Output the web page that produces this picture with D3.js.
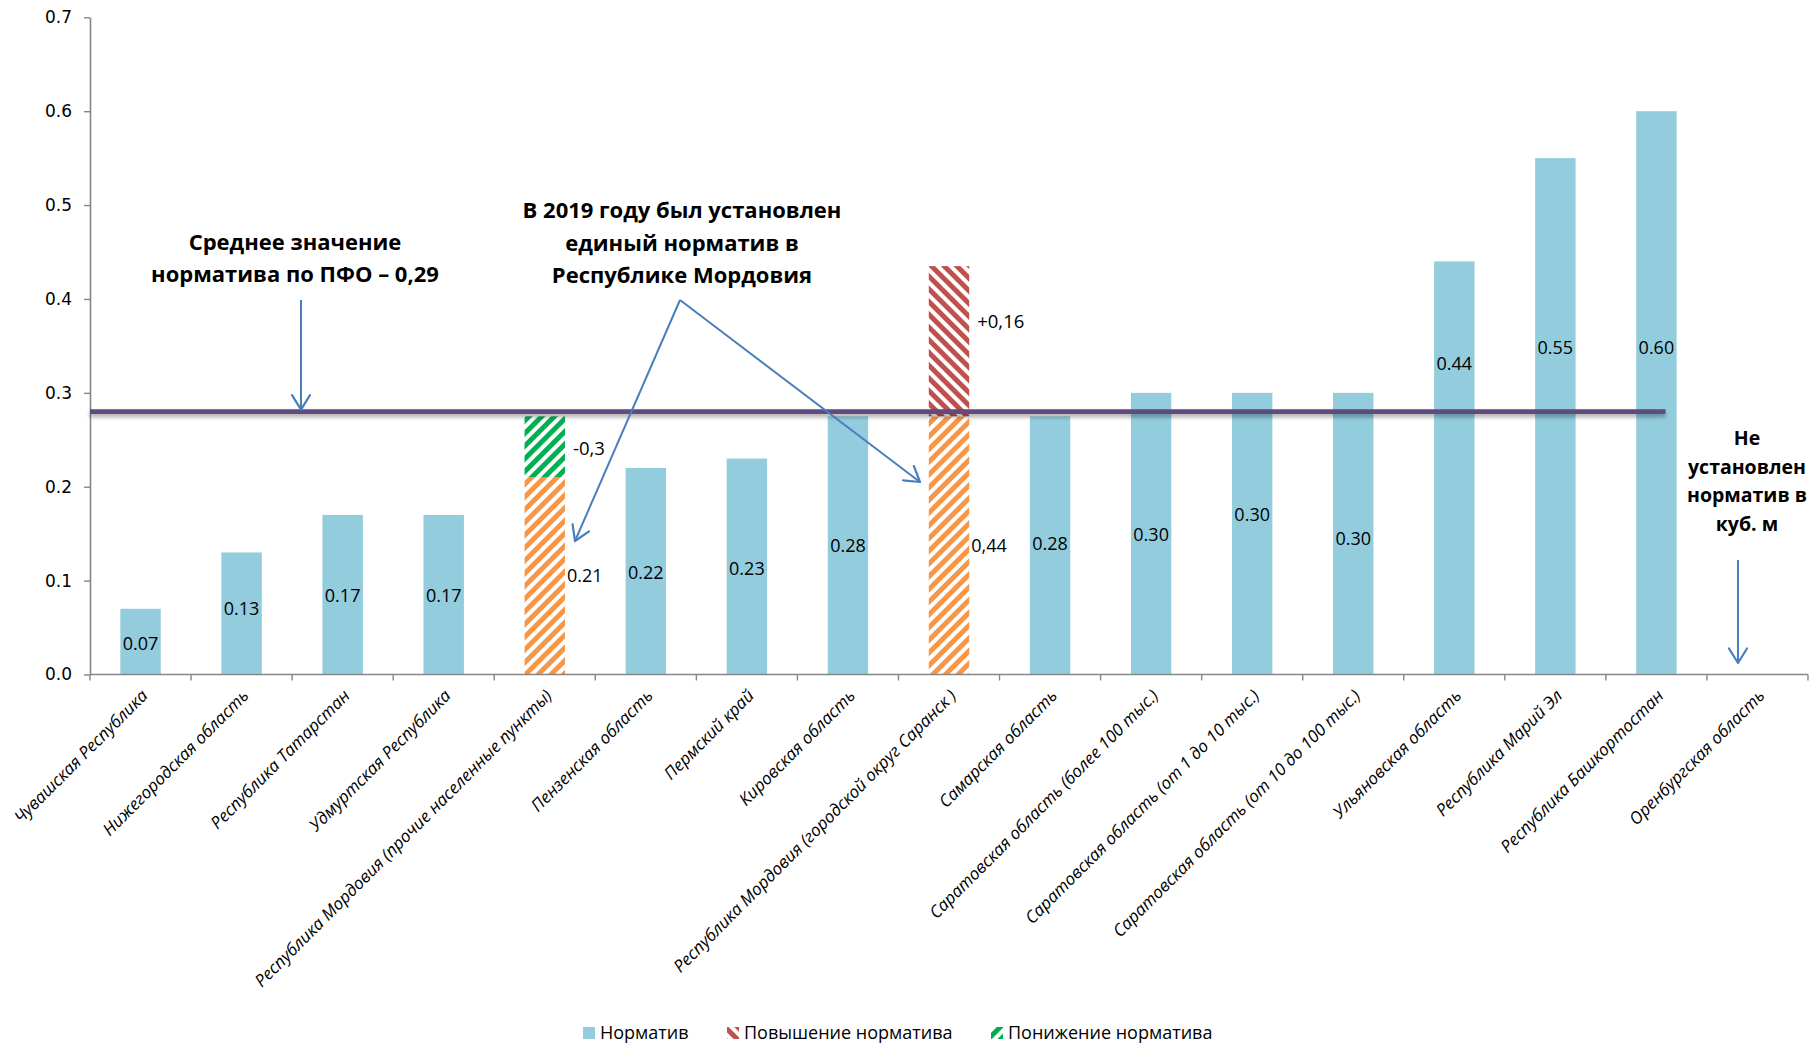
<!DOCTYPE html>
<html><head><meta charset="utf-8">
<script src="https://cdn.jsdelivr.net/npm/d3@7/dist/d3.min.js"></script>
<style>body{margin:0;background:#fff;} svg{display:block;}</style>
</head><body>
<svg id="chart" width="1811" height="1044"></svg>
<script>
// ---------- DATA ----------
const categories = [
  "Чувашская Республика",
  "Нижегородская область",
  "Республика Татарстан",
  "Удмуртская Республика",
  "Республика Мордовия (прочие населенные пункты)",
  "Пензенская область",
  "Пермский край",
  "Кировская область",
  "Республика Мордовия (городской округ Саранск )",
  "Самарская область",
  "Саратовская область (более 100 тыс.)",
  "Саратовская область (от 1 до 10 тыс.)",
  "Саратовская область (от 10 до 100 тыс.)",
  "Ульяновская область",
  "Республика Марий Эл",
  "Республика Башкортостан",
  "Оренбургская область"
];
// Норматив (solid blue bars)
const normValues = [0.07, 0.13, 0.17, 0.17, null, 0.22, 0.23, 0.275, null, 0.275, 0.30, 0.30, 0.30, 0.44, 0.55, 0.60, null];
// Норматив for Mordovia (hatched orange base)
const mordoviaBase = [null, null, null, null, 0.21, null, null, null, 0.275, null, null, null, null, null, null, null, null];
// Повышение норматива
const increaseValues = [null, null, null, null, null, null, null, null, 0.16, null, null, null, null, null, null, null, null];
// Понижение норматива
const decreaseValues = [null, null, null, null, 0.065, null, null, null, null, null, null, null, null, null, null, null, null];
// data label texts and the value height at which they sit
const normLabels = ["0.07", "0.13", "0.17", "0.17", "0.21", "0.22", "0.23", "0.28", "0,44", "0.28", "0.30", "0.30", "0.30", "0.44", "0.55", "0.60", ""];
const normLabelAt = [0.033, 0.070, 0.084, 0.084, 0.105, 0.108, 0.113, 0.137, 0.137, 0.139, 0.149, 0.170, 0.145, 0.331, 0.348, 0.348, null];
const changeLabels = [null, null, null, null, "-0,3", null, null, null, "+0,16", null, null, null, null, null, null, null, null];
const changeLabelAt = [null, null, null, null, 0.241, null, null, null, 0.376, null, null, null, null, null, null, null, null];
const yTicks = [0, 0.1, 0.2, 0.3, 0.4, 0.5, 0.6, 0.7];
const averageValue = 0.28;
const legendItems = ["Норматив", "Повышение норматива", "Понижение норматива"];
const noteAverage = ["Среднее значение", "норматива по ПФО – 0,29"];
const noteMordovia = ["В 2019 году был установлен", "единый норматив в", "Республике Мордовия"];
const noteOrenburg = ["Не", "установлен", "норматив в", "куб. м"];

// ---------- STYLE ----------
const C = {
  blue: "#93CDDD", orange: "#F79646", red: "#C0504D", green: "#00B050",
  axis: "#868686", avg: "#5F4B7F", arrow: "#4A7EBB"
};
const svg = d3.select("#chart");
const defs = svg.append("defs");

function hatch(id, color, angle) {
  const p = defs.append("pattern").attr("id", id)
    .attr("patternUnits", "userSpaceOnUse").attr("width", 9).attr("height", 9)
    .attr("patternTransform", `rotate(${angle})`);
  p.append("rect").attr("width", 9).attr("height", 9).attr("fill", "#fff");
  p.append("rect").attr("width", 5).attr("height", 9).attr("fill", color);
}
hatch("hOrange", C.orange, 45);
hatch("hGreen", C.green, 45);
hatch("hRed", C.red, -45);

const shadow = defs.append("filter").attr("id", "shadow")
  .attr("filterUnits", "userSpaceOnUse")
  .attr("x", 0).attr("y", 0).attr("width", 1811).attr("height", 1044);
shadow.append("feDropShadow").attr("dx", 0).attr("dy", 3).attr("stdDeviation", 2.2)
  .attr("flood-color", "#000").attr("flood-opacity", 0.35);

defs.append("marker").attr("id", "arr").attr("viewBox", "0 0 18 20")
  .attr("refX", 16).attr("refY", 10).attr("markerWidth", 18).attr("markerHeight", 20)
  .attr("markerUnits", "userSpaceOnUse").attr("orient", "auto")
  .append("path").attr("d", "M1.5,1 L16,10 L1.5,19")
  .attr("fill", "none").attr("stroke", C.arrow).attr("stroke-width", 2.2)
  .attr("stroke-linecap", "round").attr("stroke-linejoin", "round");

// ---------- SCALES ----------
const x = d3.scaleBand().domain(categories).range([90, 1808]).paddingInner(0.6).paddingOuter(0.3);
const y = d3.scaleLinear().domain([0, 0.7]).range([674.5, 17.3]);
const bw = x.bandwidth(), step = x.step();
const cx = c => x(c) + bw / 2;

// ---------- AXES ----------
const yAxis = svg.append("g").attr("transform", `translate(${x.range()[0]},0)`)
  .call(d3.axisLeft(y).tickValues(yTicks).tickFormat(d3.format(".1f")).tickSize(6).tickSizeOuter(0).tickPadding(12));
yAxis.select(".domain").attr("stroke", C.axis).attr("stroke-width", 1.6);
yAxis.selectAll(".tick line").attr("stroke", C.axis).attr("stroke-width", 1.4);
yAxis.selectAll(".tick text").attr("font-family", "DejaVu Sans").attr("font-size", 17).attr("fill", "#000");

// ---------- BARS ----------
const gBars = svg.append("g");
categories.forEach((c, i) => {
  if (normValues[i] != null)
    gBars.append("rect").attr("x", x(c)).attr("width", bw)
      .attr("y", y(normValues[i])).attr("height", y(0) - y(normValues[i])).attr("fill", C.blue);
  if (mordoviaBase[i] != null)
    gBars.append("rect").attr("x", x(c)).attr("width", bw)
      .attr("y", y(mordoviaBase[i])).attr("height", y(0) - y(mordoviaBase[i])).attr("fill", "url(#hOrange)");
  const b = mordoviaBase[i] || 0;
  if (increaseValues[i] != null)
    gBars.append("rect").attr("x", x(c)).attr("width", bw)
      .attr("y", y(b + increaseValues[i])).attr("height", y(b) - y(b + increaseValues[i])).attr("fill", "url(#hRed)");
  if (decreaseValues[i] != null)
    gBars.append("rect").attr("x", x(c)).attr("width", bw)
      .attr("y", y(b + decreaseValues[i])).attr("height", y(b) - y(b + decreaseValues[i])).attr("fill", "url(#hGreen)");
});

// x axis line + ticks between categories
const gx = svg.append("g");
gx.append("line").attr("x1", x.range()[0]).attr("x2", x.range()[1])
  .attr("y1", y(0)).attr("y2", y(0)).attr("stroke", C.axis).attr("stroke-width", 1.6);
categories.forEach((c, i) => {
  const bx = cx(c) - step / 2;
  gx.append("line").attr("x1", bx).attr("x2", bx).attr("y1", y(0)).attr("y2", y(0) + 6)
    .attr("stroke", C.axis).attr("stroke-width", 1.4);
});
gx.append("line").attr("x1", x.range()[1]).attr("x2", x.range()[1]).attr("y1", y(0)).attr("y2", y(0) + 6)
  .attr("stroke", C.axis).attr("stroke-width", 1.4);

// category labels
categories.forEach(c => {
  gx.append("text").attr("transform", `translate(${cx(c) + 4},${y(0) + 18}) rotate(-45)`)
    .attr("text-anchor", "end").attr("dy", "0.35em")
    .attr("font-family", "Open Sans").attr("font-style", "italic").attr("font-size", 17)
    .attr("fill", "#000").text(c);
});

// ---------- AVERAGE LINE ----------
svg.append("line").attr("x1", x.range()[0]).attr("x2", cx(categories[15]) + 0.09 * step)
  .attr("y1", y(averageValue)).attr("y2", y(averageValue))
  .attr("stroke", C.avg).attr("stroke-width", 4.8).attr("filter", "url(#shadow)");

// ---------- DATA LABELS ----------
const gl = svg.append("g").attr("font-family", "Open Sans").attr("font-size", 18).attr("fill", "#000");
categories.forEach((c, i) => {
  if (normLabelAt[i] == null) return;
  const side = mordoviaBase[i] != null;
  gl.append("text").attr("x", side ? x(c) + bw + 2 : cx(c)).attr("y", y(normLabelAt[i]))
    .attr("dy", "0.35em").attr("text-anchor", side ? "start" : "middle").text(normLabels[i]);
  if (changeLabelAt[i] != null)
    gl.append("text").attr("x", x(c) + bw + 8).attr("y", y(changeLabelAt[i]))
      .attr("dy", "0.35em").attr("font-size", 18.5).text(changeLabels[i]);
});

// ---------- ANNOTATIONS ----------
function note(lines, xc, y0, lh, fs) {
  const t = svg.append("text").attr("font-family", "Open Sans").attr("font-weight", 700)
    .attr("font-size", fs).attr("text-anchor", "middle").attr("fill", "#000");
  lines.forEach((l, k) => t.append("tspan").attr("x", xc).attr("y", y0 + k * lh).text(l));
}
note(noteAverage, 295, 250, 32, 22);
note(noteMordovia, 682, 218, 32.5, 22);
note(noteOrenburg, 1747, 445, 28.5, 19.5);

function arrow(x1, y1, x2, y2) {
  svg.append("line").attr("x1", x1).attr("y1", y1).attr("x2", x2).attr("y2", y2)
    .attr("stroke", C.arrow).attr("stroke-width", 2).attr("marker-end", "url(#arr)");
}
arrow(301, 300, 301, y(averageValue) - 2);
arrow(680, 300, 575, 541);
arrow(680, 300, 920, 482);
arrow(1738, 560, 1738, 663);

// ---------- LEGEND ----------
const legFills = [C.blue, "url(#hRed)", "url(#hGreen)"];
const legX = [583, 727, 991];
const gLeg = svg.append("g");
legendItems.forEach((l, i) => {
  gLeg.append("rect").attr("x", legX[i]).attr("y", 1027).attr("width", 12).attr("height", 12).attr("fill", legFills[i]);
  gLeg.append("text").attr("x", legX[i] + 17).attr("y", 1033).attr("dy", "0.35em")
    .attr("font-family", "Open Sans").attr("font-size", 18).attr("fill", "#000").text(l);
});
</script>
</body></html>
